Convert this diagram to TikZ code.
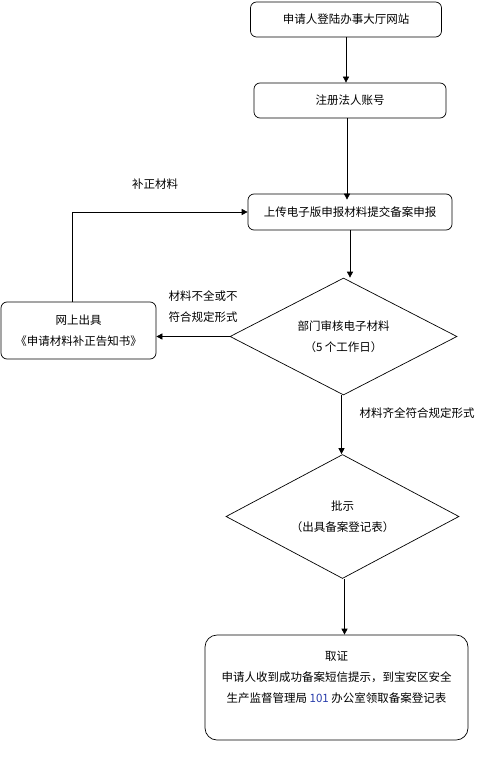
\documentclass[tikz,border=0pt]{standalone}
\usepackage{fontspec}
\setmainfont{Noto Sans CJK SC}
\usetikzlibrary{shapes.geometric,arrows.meta}
\definecolor{numblue}{RGB}{40,60,170}

\tikzset{
  stepbox/.style={draw, rounded corners=6pt, inner sep=0pt, align=center},
  check/.style={draw, diamond, aspect=2, inner sep=0pt, align=center},
  lbl/.style={inner sep=0pt, align=left},
}

\begin{document}
\begin{tikzpicture}[x=1pt, y=-1pt, line width=0.7pt,
    >={Triangle[length=6pt,width=6pt]},
    font=\fontsize{11.5}{21}\selectfont]
  \useasboundingbox (0,0) rectangle (489,767);

  \node[stepbox, minimum width=191pt, minimum height=35pt] (login)  at (346, 19.5) {申请人登陆办事大厅网站};
  \node[stepbox, minimum width=192pt, minimum height=35pt] (reg)    at (350, 100.5) {注册法人账号};
  \node[stepbox, minimum width=204pt, minimum height=36pt] (upload) at (350, 212) {上传电子版申报材料提交备案申报};

  \node[check, minimum width=227pt, minimum height=117pt] (review) at (343.5, 336.5)
    {部门审核电子材料\\（5 个工作日）};
  \node[stepbox, minimum width=155pt, minimum height=57pt] (notice) at (78.5, 330.5)
    {网上出具\\《申请材料补正告知书》};

  \node[check, minimum width=233pt, minimum height=124pt] (approve) at (342.5, 516.5)
    {批示\\（出具备案登记表）};
  \node[stepbox, rounded corners=12pt, minimum width=263pt, minimum height=105pt] (collect) at (336.5, 687.5)
    {取证\\申请人收到成功备案短信提示，到宝安区安全\\生产监督管理局 \textcolor{numblue}{101} 办公室领取备案登记表\\ };

  \node[lbl] (fix)  at (155, 184) {补正材料};
  \node[lbl] (bad)  at (203, 307) {材料不全或不\\符合规定形式};
  \node[lbl] (good) at (417, 413) {材料齐全符合规定形式};

  \draw[->] (login.south) -- (login.south |- reg.north);
  \draw[->] ([xshift=-3pt]reg.south) -- ([xshift=-3pt, yshift=-6pt]reg.south |- upload.north);
  \draw[->] (upload.south) -- (upload.south |- review.north);
  \draw[->] (review.west) -- (review.west -| notice.east);
  \draw[->] ([xshift=-6pt]notice.north) |- (upload.west);
  \draw[->] ([xshift=-2pt]review.south) -- ([xshift=-2pt]review.south |- approve.north);
  \draw[->] ([xshift=2pt]approve.south) -- ([xshift=2pt]approve.south |- collect.north);
\end{tikzpicture}
\end{document}
